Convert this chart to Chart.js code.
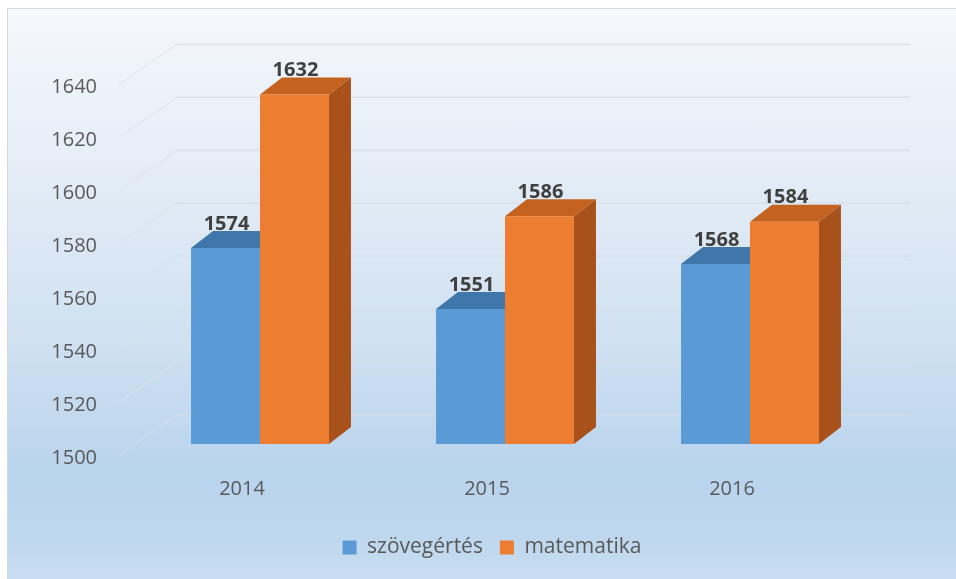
<!DOCTYPE html>
<html>
<head>
<meta charset="utf-8">
<script src="https://cdn.jsdelivr.net/npm/chart.js@4.4.1/dist/chart.umd.min.js"></script>
<style>
  html, body { margin: 0; padding: 0; background: #ffffff; }
  #wrap { position: relative; width: 956px; height: 579px; overflow: hidden; }
  #bg { position: absolute; left: 7px; top: 8px; width: 960px; height: 580px;
        border-left: 1px solid #d9d9d9; border-top: 1px solid #d9d9d9;
        background: linear-gradient(to bottom, #f5f8fc 0%, #e6eef7 25%, #d2e2f2 55%, #b9d4ed 80%, #bdd7ee 90%, #cadef1 100%); }
  canvas { position: absolute; left: 0; top: 0; }
</style>
</head>
<body>
<div id="wrap">
  <div id="bg"></div>
  <canvas id="c" width="956" height="579"></canvas>
</div>
<script>
const categories = ['2014', '2015', '2016'];
const szovegertes = [1574, 1551, 1568];
const matematika = [1632, 1586, 1584];
const seriesNames = ['szövegértés', 'matematika'];
const yMin = 1500, yMax = 1640, yStep = 20;

const FONT = '"Open Sans", "DejaVu Sans", sans-serif';
const DEPTH_X = 22, DEPTH_Y = -17;
const faces = [
  { top: '#3f77ab', side: '#3a6e9f' },
  { top: '#c4621f', side: '#a9511a' }
];

const threeD = {
  id: 'threeD',
  beforeDatasetsDraw(chart) {
    const ctx = chart.ctx;
    const ys = chart.scales.y;
    const area = chart.chartArea;
    ctx.save();
    // back wall grid lines + left wall diagonals
    ctx.strokeStyle = 'rgba(214,220,228,0.7)';
    ctx.lineWidth = 1.5;
    ys.ticks.forEach(t => {
      const p = ys.getPixelForValue(t.value);
      ctx.beginPath();
      ctx.moveTo(177, p - 29);
      ctx.lineTo(910, p - 29);
      ctx.stroke();
    });
    ctx.strokeStyle = 'rgba(220,226,234,0.55)';
    ys.ticks.forEach(t => {
      const p = ys.getPixelForValue(t.value);
      ctx.beginPath();
      ctx.moveTo(119, p + 11);
      ctx.lineTo(177, p - 29);
      ctx.stroke();
    });
    // 3D top and side faces of the bars
    chart.data.datasets.forEach((ds, di) => {
      const meta = chart.getDatasetMeta(di);
      meta.data.forEach(el => {
        const l = el.x - el.width / 2, r = el.x + el.width / 2;
        const top = el.y, bot = Math.min(el.base, area.bottom);
        ctx.fillStyle = faces[di].side;
        ctx.beginPath();
        ctx.moveTo(r, top);
        ctx.lineTo(r + DEPTH_X, top + DEPTH_Y);
        ctx.lineTo(r + DEPTH_X, bot + DEPTH_Y);
        ctx.lineTo(r, bot);
        ctx.closePath();
        ctx.fill();
        ctx.fillStyle = faces[di].top;
        ctx.beginPath();
        ctx.moveTo(l, top);
        ctx.lineTo(l + DEPTH_X, top + DEPTH_Y);
        ctx.lineTo(r + DEPTH_X, top + DEPTH_Y);
        ctx.lineTo(r, top);
        ctx.closePath();
        ctx.fill();
      });
    });
    ctx.restore();
  },
  afterDatasetsDraw(chart) {
    const ctx = chart.ctx;
    ctx.save();
    ctx.font = 'bold 20px ' + FONT;
    ctx.fillStyle = '#404040';
    ctx.textAlign = 'center';
    ctx.textBaseline = 'middle';
    chart.data.datasets.forEach((ds, di) => {
      const meta = chart.getDatasetMeta(di);
      meta.data.forEach((el, i) => {
        ctx.fillText(String(ds.data[i]), el.x + 1, el.y - 24);
      });
    });
    ctx.restore();
  }
};

new Chart(document.getElementById('c'), {
  type: 'bar',
  data: {
    labels: categories,
    datasets: [
      { label: seriesNames[0], data: szovegertes, backgroundColor: '#5b9bd5', borderWidth: 0 },
      { label: seriesNames[1], data: matematika, backgroundColor: '#ed7d31', borderWidth: 0 }
    ]
  },
  options: {
    responsive: false,
    animation: false,
    devicePixelRatio: 1,
    layout: { padding: { left: 28, right: 0, top: 73.4, bottom: 11 } },
    datasets: { bar: { categoryPercentage: 0.563, barPercentage: 1.0 } },
    scales: {
      x: {
        grid: { display: false, drawTicks: false },
        border: { display: false },
        ticks: { color: '#595959', font: { family: FONT, size: 20 }, padding: 33, labelOffset: -18 },
        afterFit(s) { s.height = 76; }
      },
      y: {
        min: yMin, max: yMax,
        grid: { display: false, drawTicks: false },
        border: { display: false },
        ticks: { stepSize: yStep, color: '#595959', font: { family: FONT, size: 20 }, padding: 40.5, labelOffset: 14,
                 callback: v => String(v) },
        afterFit(s) { s.width = 109.5; }
      },
      yRight: {
        position: 'right',
        min: yMin, max: yMax,
        grid: { display: false, drawTicks: false },
        border: { display: false },
        ticks: { display: false },
        afterFit(s) { s.width = 83.5; }
      }
    },
    plugins: {
      legend: {
        position: 'bottom',
        labels: { color: '#595959', font: { family: FONT, size: 21 }, boxWidth: 14, boxHeight: 14, padding: 17 }
      },
      tooltip: { enabled: false }
    }
  },
  plugins: [threeD]
});
</script>
</body>
</html>
